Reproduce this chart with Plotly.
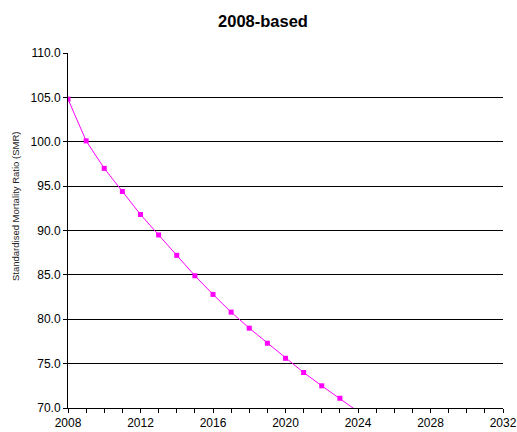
import plotly.graph_objects as go

# Projected Standardised Mortality Ratio, 2008-based projection
years = list(range(2008, 2025))
smr = [104.8, 100.1, 97.0, 94.4, 91.8, 89.5, 87.2, 84.9, 82.8, 80.8,
       79.0, 77.3, 75.6, 74.0, 72.5, 71.1, 69.6]

x_ticks = [2008, 2012, 2016, 2020, 2024, 2028, 2032]
y_ticks = [70, 75, 80, 85, 90, 95, 100, 105, 110]

W, H = 517, 432
L, R, T, B = 68, 14, 53, 24
plot_w, plot_h = W - L - R, H - T - B

fig = go.Figure()
fig.add_trace(go.Scatter(
    x=years, y=smr, mode="lines+markers",
    line=dict(color="#FF00FF", width=1),
    marker=dict(symbol="square", size=5, color="#FF00FF"),
    showlegend=False,
))

fig.update_layout(
    width=W, height=H,
    margin=dict(l=L, r=R, t=T, b=B),
    paper_bgcolor="white", plot_bgcolor="white",
    font=dict(family="Liberation Sans, Arial, sans-serif", size=12, color="black"),
    title=dict(text="<b>2008-based</b>", x=263 / W, xanchor="center",
               y=1 - 21 / H, yanchor="middle",
               font=dict(size=16.5, color="black")),
    xaxis=dict(
        range=[2008, 2032], tickvals=x_ticks, ticktext=[str(v) for v in x_ticks],
        ticks="outside", ticklen=4, tickcolor="black", automargin=False,
        minor=dict(dtick=1, ticks="outside", ticklen=4, tickcolor="black", showgrid=False),
        showline=True, linecolor="black", linewidth=1,
        showgrid=False, zeroline=False, tickfont=dict(size=12),
    ),
    yaxis=dict(
        range=[70, 110], tickvals=y_ticks, ticktext=[f"{v:.1f}" for v in y_ticks],
        ticks="outside", ticklen=4, tickcolor="black", automargin=False,
        showline=True, linecolor="black", linewidth=1,
        showgrid=True, gridcolor="black", gridwidth=1, zeroline=False,
        tickfont=dict(size=12),
    ),
    annotations=[dict(
        text="Standardised Mortality Ratio (SMR)",
        xref="paper", yref="paper",
        x=(15 - L) / plot_w, y=(H - B - 207) / plot_h,
        xanchor="center", yanchor="middle", textangle=-90, showarrow=False,
        font=dict(size=9.5, color="#222222"),
    )],
)

fig.write_html("out.html")
